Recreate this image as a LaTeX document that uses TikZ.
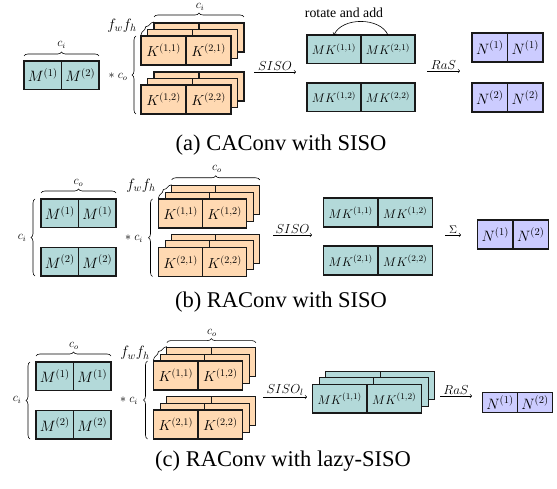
\RequirePackage{fix-cm}
\documentclass[tikz,border=0pt]{standalone}
\usepackage[no-math]{fontspec}
\setmainfont{Liberation Serif}
\usetikzlibrary{decorations.pathreplacing}
\definecolor{mteal}{RGB}{179,217,217}
\definecolor{kpeach}{RGB}{255,217,178}
\definecolor{nlav}{RGB}{204,204,255}
\newcommand{\cellpair}[8]{%
  \node[cellbox,#6,minimum width=#4pt,minimum height=#5pt,anchor=north west] (#1l) at (#2,#3) {#7};
  \node[cellbox,#6,minimum width=#4pt,minimum height=#5pt,anchor=north west] (#1r) at (#1l.north east) {#8};
}
\newcommand{\stackpair}[9]{%
  \cellpair{#1c}{{#2+2*#9}}{{#3-2*#9}}{#4}{#5}{#6}{}{}
  \cellpair{#1b}{{#2+#9}}{{#3-#9}}{#4}{#5}{#6}{}{}
  \cellpair{#1}{#2}{#3}{#4}{#5}{#6}{#7}{#8}
}
\begin{document}
\begin{tikzpicture}[x=1pt,y=-1pt,
  cellbox/.style={draw=black!90,line width=1.1pt,inner sep=0pt,outer sep=0pt,rectangle},
  mcell/.style={fill=mteal,font=\fontsize{15}{15}\selectfont},
  kcell/.style={fill=kpeach,font=\fontsize{14.5}{14.5}\selectfont},
  mkcell/.style={fill=mteal,font=\fontsize{12.5}{12.5}\selectfont},
  ncell/.style={fill=nlav,font=\fontsize{15}{15}\selectfont},
  brc/.style={decorate,decoration={brace,amplitude=4pt},line width=0.6pt},
  sbrc/.style={decorate,decoration={brace,amplitude=2.5pt},line width=0.6pt},
  lbl/.style={font=\fontsize{12}{12}\selectfont,inner sep=0pt},
  flbl/.style={font=\fontsize{15}{15}\selectfont,inner sep=0pt},
  albl/.style={font=\fontsize{13}{13}\selectfont,inner sep=1pt,above},
  arr/.style={->,line width=0.6pt},
  captext/.style={font=\fontsize{22.5}{22.5}\selectfont,inner sep=0pt}]
\useasboundingbox (0,0) rectangle (557,489);

% ===================== (a) =====================
\cellpair{aM}{24}{61}{37.5}{28.5}{mcell}{$M^{(1)}$}{$M^{(2)}$}
\draw[brc] ([yshift=5pt]aMl.north west) -- ([yshift=5pt]aMr.north east);
\node[lbl] (aMci) at (61.5,45) {$c_i$};
\node[lbl] (aast) at (118,77) {$\ast\; c_o$};
\stackpair{aKa}{141}{36}{45}{29}{kcell}{$K^{(1,1)}$}{$K^{(2,1)}$}{6.5}
\stackpair{aKb}{141}{85}{45}{29}{kcell}{$K^{(1,2)}$}{$K^{(2,2)}$}{6.5}
\draw[brc] ([xshift=-5pt]aKbl.south west) -- ([xshift=-5pt]aKal.north west);
\draw[brc] ([yshift=6pt]aKacl.north west) -- ([yshift=6pt]aKacr.north east);
\node[lbl] (aKci) at (200,7) {$c_i$};
\draw[sbrc] ([yshift=1pt]aKal.north west) -- ([yshift=1pt]aKacl.north west);
\node[flbl] (afwfh) at (122,26) {$f_wf_h$};
\coordinate (aS1) at (254,72); \coordinate (aS2) at (296,72);
\draw[arr] (aS1) -- node[albl] (asiso) {$SISO$} (aS2);
\cellpair{aMKa}{307}{35}{54}{28.5}{mkcell}{$MK^{(1,1)}$}{$MK^{(2,1)}$}
\cellpair{aMKb}{307}{83}{54}{28.5}{mkcell}{$MK^{(1,2)}$}{$MK^{(2,2)}$}
\draw[->,line width=0.6pt] (aMKar.north) .. controls (380,17) and (342,17) .. (aMKal.north);
\node[font=\fontsize{13.8}{13.8}\selectfont,inner sep=0pt] (arot) at (344,13) {rotate and add};
\coordinate (aR1) at (427,71); \coordinate (aR2) at (460,71);
\draw[arr] (aR1) -- node[albl] (aras) {$RaS$} (aR2);
\cellpair{aNa}{472}{33}{35.5}{29}{ncell}{$N^{(1)}$}{$N^{(1)}$}
\cellpair{aNb}{472}{83}{35.5}{29}{ncell}{$N^{(2)}$}{$N^{(2)}$}
\node[captext] (capa) at (281,145) {(a) CAConv with SISO};

% ===================== (b) =====================
\cellpair{bMa}{41}{199}{37.5}{28.5}{mcell}{$M^{(1)}$}{$M^{(1)}$}
\cellpair{bMb}{41}{247.5}{37.5}{28.5}{mcell}{$M^{(2)}$}{$M^{(2)}$}
\draw[brc] ([yshift=6pt]bMal.north west) -- ([yshift=6pt]bMar.north east);
\node[lbl] (bMco) at (78.5,183) {$c_o$};
\draw[brc] ([xshift=-6pt]bMbl.south west) -- ([xshift=-6pt]bMal.north west);
\node[lbl] (bMci) at (22,238) {$c_i$};
\node[lbl] (bast) at (134,239) {$\ast\; c_i$};
\stackpair{bKa}{158.5}{199}{44}{29}{kcell}{$K^{(1,1)}$}{$K^{(1,2)}$}{6.6}
\stackpair{bKb}{158.5}{247.5}{44}{29}{kcell}{$K^{(2,1)}$}{$K^{(2,2)}$}{6.6}
\draw[brc] ([xshift=-6pt]bKbl.south west) -- ([xshift=-6pt]bKal.north west);
\draw[brc] ([yshift=6pt]bKacl.north west) -- ([yshift=6pt]bKacr.north east);
\node[lbl] (bKco) at (217,169) {$c_o$};
\draw[sbrc] ([yshift=1pt]bKal.north west) -- ([yshift=1pt]bKacl.north west);
\node[flbl] (bfwfh) at (141,186) {$f_wf_h$};
\coordinate (bS1) at (273,235); \coordinate (bS2) at (312,235);
\draw[arr] (bS1) -- node[albl] (bsiso) {$SISO$} (bS2);
\cellpair{bMKa}{323.5}{198}{54.5}{29}{mkcell}{$MK^{(1,1)}$}{$MK^{(1,2)}$}
\cellpair{bMKb}{323.5}{246}{54.5}{29}{mkcell}{$MK^{(2,1)}$}{$MK^{(2,2)}$}
\coordinate (bR1) at (445,235); \coordinate (bR2) at (461,235);
\draw[arr] (bR1) -- node[albl,font=\fontsize{11}{11}\selectfont] (bsum) {$\Sigma$} (bR2);
\cellpair{bN}{477.5}{220}{35.5}{29}{ncell}{$N^{(1)}$}{$N^{(2)}$}
\node[captext] (capb) at (281,302) {(b) RAConv with SISO};

% ===================== (c) =====================
\cellpair{cMa}{36}{362}{37.5}{28.5}{mcell}{$M^{(1)}$}{$M^{(1)}$}
\cellpair{cMb}{36}{410.5}{37.5}{28.5}{mcell}{$M^{(2)}$}{$M^{(2)}$}
\draw[brc] ([yshift=6pt]cMal.north west) -- ([yshift=6pt]cMar.north east);
\node[lbl] (cMco) at (74,346) {$c_o$};
\draw[brc] ([xshift=-6pt]cMbl.south west) -- ([xshift=-6pt]cMal.north west);
\node[lbl] (cMci) at (17,400) {$c_i$};
\node[lbl] (cast) at (129,401) {$\ast\; c_i$};
\stackpair{cKa}{153.5}{361}{44.5}{29}{kcell}{$K^{(1,1)}$}{$K^{(1,2)}$}{6.7}
\stackpair{cKb}{153.5}{410}{44.5}{29}{kcell}{$K^{(2,1)}$}{$K^{(2,2)}$}{6.7}
\draw[brc] ([xshift=-6pt]cKbl.south west) -- ([xshift=-6pt]cKal.north west);
\draw[brc] ([yshift=5pt]cKacl.north west) -- ([yshift=5pt]cKacr.north east);
\node[lbl] (cKco) at (212,333) {$c_o$};
\draw[sbrc] ([yshift=1pt]cKal.north west) -- ([yshift=1pt]cKacl.north west);
\node[flbl] (cfwfh) at (135,353) {$f_wf_h$};
\coordinate (cS1) at (263,397); \coordinate (cS2) at (307,397);
\draw[arr] (cS1) -- node[albl] (csiso) {$SISO_l$} (cS2);
\stackpair{cMK}{312.5}{384.5}{54.5}{28.5}{mkcell}{$MK^{(1,1)}$}{$MK^{(1,2)}$}{6.7}
\coordinate (cR1) at (440,396); \coordinate (cR2) at (472,396);
\draw[arr] (cR1) -- node[albl] (cras) {$RaS$} (cR2);
\cellpair{cN}{482.5}{392.5}{35}{20}{ncell}{$N^{(1)}$}{$N^{(2)}$}
\node[captext] (capc) at (283,461) {(c) RAConv with lazy-SISO};
\end{tikzpicture}
\end{document}
